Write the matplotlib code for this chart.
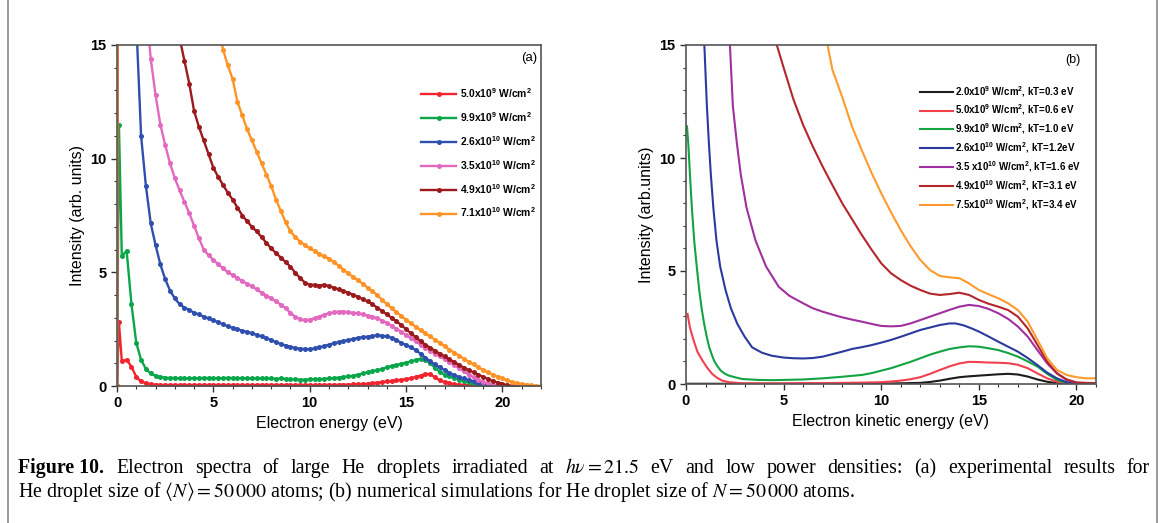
import numpy as np
import matplotlib
matplotlib.use("Agg")
from matplotlib import pyplot as plt
from matplotlib.ticker import MultipleLocator
from matplotlib.lines import Line2D

plt.rcParams['font.family'] = ['Liberation Sans', 'DejaVu Sans']
plt.rcParams['mathtext.fontset'] = 'custom'
plt.rcParams['mathtext.rm'] = 'Liberation Sans:bold'
plt.rcParams['mathtext.it'] = 'Liberation Sans:italic:bold'
plt.rcParams['mathtext.bf'] = 'Liberation Sans:bold'

# ---------------- panel (a): experimental spectra ----------------
# energy grid of the measured points (eV)
xa = np.concatenate(([0.0, 0.1], np.arange(1, 89) * 0.25))

a_red = [0.0, 2.8,
         1.10, 1.15, 0.85, 0.40,
         0.20, 0.12, 0.08, 0.06,
         0.05, 0.05, 0.04, 0.05,
         0.04, 0.05, 0.04, 0.05,
         0.04, 0.05, 0.04, 0.05,
         0.04, 0.05, 0.04, 0.05,
         0.04, 0.05, 0.04, 0.05,
         0.04, 0.05, 0.04, 0.05,
         0.04, 0.05, 0.04, 0.05,
         0.04, 0.05, 0.04, 0.05,
         0.04, 0.05, 0.05, 0.05,
         0.05, 0.05, 0.06, 0.06,
         0.07, 0.08, 0.09, 0.10,
         0.12, 0.15, 0.17, 0.20,
         0.22, 0.25, 0.28, 0.30,
         0.34, 0.40, 0.46, 0.53,
         0.52, 0.38, 0.25, 0.17,
         0.12, 0.08, 0.06, 0.05,
         0.04, 0.03, 0.02, 0.01,
         0.0]

a_green = [0.0, 11.5,
           5.70, 5.95, 3.60, 1.90,
           1.15, 0.75, 0.55, 0.45,
           0.40, 0.37, 0.35, 0.36,
           0.34, 0.35, 0.33, 0.35,
           0.34, 0.36, 0.35, 0.34,
           0.35, 0.34, 0.36, 0.35,
           0.34, 0.35, 0.34, 0.33,
           0.34, 0.33, 0.34, 0.33,
           0.32, 0.33, 0.31, 0.30,
           0.29, 0.28, 0.28, 0.29,
           0.30, 0.30, 0.32, 0.33,
           0.35, 0.37, 0.40, 0.42,
           0.45, 0.50, 0.55, 0.60,
           0.65, 0.70, 0.75, 0.82,
           0.88, 0.93, 0.98, 1.03,
           1.08, 1.15, 1.20, 1.15,
           1.00, 0.80, 0.62, 0.50,
           0.42, 0.34, 0.27, 0.22,
           0.16, 0.11, 0.07, 0.04,
           0.02, 0.0]

a_blue = [0.0, 60.0,
          40.0, 28.0, 20.0, 16.0,
          11.0, 8.80, 7.16, 6.20,
          5.35, 4.70, 4.20, 3.85,
          3.60, 3.45, 3.35, 3.22,
          3.15, 3.05, 2.97, 2.90,
          2.80, 2.72, 2.62, 2.56,
          2.50, 2.43, 2.38, 2.32,
          2.25, 2.18, 2.10, 2.02,
          1.93, 1.85, 1.78, 1.72,
          1.67, 1.64, 1.63, 1.62,
          1.65, 1.70, 1.76, 1.82,
          1.88, 1.93, 1.98, 2.02,
          2.07, 2.12, 2.15, 2.17,
          2.20, 2.23, 2.22, 2.18,
          2.12, 2.02, 1.90, 1.80,
          1.70, 1.58, 1.42, 1.25,
          1.08, 0.95, 0.82, 0.70,
          0.58, 0.48, 0.40, 0.33,
          0.26, 0.20, 0.14, 0.09,
          0.04, 0.01, 0.0]

a_pink = [0.0, 60.0,
          45.0, 36.0, 29.0, 24.0,
          20.0, 16.8, 14.4, 12.8,
          11.5, 10.6, 9.80, 9.15,
          8.60, 8.10, 7.60, 7.05,
          6.50, 6.00, 5.75, 5.55,
          5.35, 5.18, 5.00, 4.88,
          4.75, 4.62, 4.50, 4.38,
          4.25, 4.10, 3.98, 3.85,
          3.72, 3.58, 3.42, 3.22,
          3.05, 2.93, 2.90, 2.92,
          2.98, 3.05, 3.14, 3.20,
          3.24, 3.27, 3.27, 3.25,
          3.22, 3.20, 3.15, 3.10,
          3.05, 2.98, 2.88, 2.78,
          2.65, 2.52, 2.38, 2.25,
          2.10, 1.96, 1.82, 1.68,
          1.55, 1.42, 1.30, 1.18,
          1.05, 0.92, 0.78, 0.64,
          0.50, 0.38, 0.27, 0.18,
          0.11, 0.05, 0.01, 0.0]

a_brown = [0.0, 60.0,
           50.0, 44.0, 39.0, 35.0,
           31.0, 28.0, 25.5, 23.0,
           21.0, 19.5, 18.0, 16.5,
           15.3, 14.3, 13.3, 12.1,
           11.4, 10.8, 10.2, 9.60,
           9.20, 8.85, 8.50, 8.20,
           7.85, 7.50, 7.25, 7.00,
           6.80, 6.55, 6.30, 6.05,
           5.85, 5.65, 5.45, 5.25,
           4.98, 4.75, 4.55, 4.45,
           4.45, 4.42, 4.45, 4.40,
           4.32, 4.25, 4.18, 4.10,
           4.02, 3.92, 3.82, 3.72,
           3.60, 3.45, 3.30, 3.15,
           3.00, 2.85, 2.68, 2.50,
           2.32, 2.15, 1.98, 1.82,
           1.68, 1.55, 1.42, 1.30,
           1.18, 1.05, 0.93, 0.81,
           0.70, 0.60, 0.50, 0.40,
           0.31, 0.22, 0.15, 0.09,
           0.04, 0.01, 0.0]

a_orange = [0.0, 60.0,
            55.0, 50.0, 46.0, 43.0,
            40.0, 37.5, 35.0, 33.0,
            31.0, 29.0, 27.5, 26.0,
            24.5, 23.0, 22.0, 21.0,
            20.0, 19.0, 18.0, 17.0,
            16.0, 14.8, 14.1, 13.5,
            12.5, 11.9, 11.3, 10.8,
            10.3, 9.80, 9.30, 8.80,
            8.20, 7.70, 7.20, 6.80,
            6.55, 6.35, 6.20, 6.05,
            5.95, 5.80, 5.70, 5.60,
            5.45, 5.30, 5.12, 4.95,
            4.80, 4.65, 4.50, 4.33,
            4.18, 4.00, 3.80, 3.60,
            3.42, 3.25, 3.08, 2.92,
            2.76, 2.60, 2.46, 2.32,
            2.18, 2.04, 1.90, 1.76,
            1.60, 1.47, 1.34, 1.20,
            1.07, 0.95, 0.82, 0.70,
            0.60, 0.50, 0.41, 0.33,
            0.25, 0.18, 0.13, 0.09,
            0.06, 0.03, 0.01, 0.0]

a_series = [a_red, a_green, a_blue, a_pink, a_brown, a_orange]
a_labels = [r"5.0x10$^{9}$ W/cm$^{2}$", r"9.9x10$^{9}$ W/cm$^{2}$",
            r"2.6x10$^{10}$ W/cm$^{2}$", r"3.5x10$^{10}$ W/cm$^{2}$",
            r"4.9x10$^{10}$ W/cm$^{2}$", r"7.1x10$^{10}$ W/cm$^{2}$"]
a_colors = ['#f2242e', '#0aa64a', '#2f4fae', '#e368c0', '#9c1a1e', '#ff9326']

# ---------------- panel (b): simulated spectra ----------------
b_black_x = [0, 2, 4, 6, 8, 10, 11, 12, 12.5, 13, 13.5, 14, 14.5, 15, 15.5, 16, 16.5,
             17, 17.5, 18, 18.5, 19, 19.5, 20, 21]
b_black_y = [0.01, 0.01, 0.01, 0.01, 0.01, 0.02, 0.03, 0.05, 0.09, 0.15, 0.23, 0.30, 0.34,
             0.37, 0.40, 0.43, 0.45, 0.42, 0.33, 0.20, 0.10, 0.03, 0.01, 0.0, 0.0]

b_red_x = [0.08, 0.2, 0.4, 0.6, 0.85, 1.1, 1.35, 1.6, 1.85, 2.2, 2.6, 3, 4, 5, 6, 7, 8, 9,
           10, 10.5, 11, 11.5, 12, 12.5, 13, 13.5, 14, 14.5, 15, 15.5, 16, 16.5, 17, 17.5,
           18, 18.5, 19, 19.5, 20, 21]
b_red_y = [3.1, 2.5, 1.9, 1.4, 1.03, 0.70, 0.44, 0.27, 0.15, 0.08, 0.05, 0.03, 0.03, 0.03,
           0.04, 0.04, 0.05, 0.06, 0.08, 0.11, 0.15, 0.21, 0.30, 0.45, 0.62, 0.78, 0.91,
           0.98, 0.97, 0.95, 0.94, 0.92, 0.85, 0.70, 0.47, 0.25, 0.10, 0.03, 0.01, 0.0]

b_green_x = [0.05, 0.12, 0.2, 0.3, 0.42, 0.55, 0.68, 0.8, 0.93, 1.06, 1.19, 1.32, 1.44,
             1.6, 1.78, 2.0, 2.2, 2.5, 2.88, 3.3, 3.7, 4.5, 5, 6, 7, 8, 9, 9.5, 10, 10.5,
             11, 11.5, 12, 12.5, 13, 13.5, 14, 14.5, 15, 15.5, 16, 16.5, 17, 17.5, 18,
             18.5, 19, 19.5, 20, 21]
b_green_y = [11.4, 10.6, 9.3, 7.8, 6.35, 5.2, 4.14, 3.35, 2.66, 2.1, 1.62, 1.3, 1.03, 0.8,
             0.59, 0.45, 0.37, 0.30, 0.22, 0.20, 0.18, 0.17, 0.18, 0.20, 0.25, 0.32, 0.40,
             0.48, 0.59, 0.70, 0.84, 0.98, 1.14, 1.30, 1.43, 1.55, 1.62, 1.67, 1.65, 1.58,
             1.50, 1.37, 1.21, 1.0, 0.77, 0.45, 0.18, 0.05, 0.01, 0.0]

b_blue_x = [0.75, 0.85, 0.94, 1.07, 1.17, 1.27, 1.4, 1.56, 1.75, 2.03, 2.3, 2.63, 3.0, 3.39,
            3.9, 4.4, 5.0, 5.5, 6.0, 6.5, 7, 7.5, 8, 8.5, 9, 9.5, 10, 10.5, 11, 11.5, 12,
            12.5, 13, 13.5, 13.8, 14.2, 14.6, 15, 15.5, 16, 16.5, 17, 17.5, 18, 18.5, 19,
            19.5, 20, 21]
b_blue_y = [19.0, 16.5, 15.0, 12.3, 10.7, 9.3, 7.8, 6.35, 5.2, 4.14, 3.35, 2.66, 2.1, 1.62,
            1.38, 1.25, 1.17, 1.14, 1.13, 1.15, 1.21, 1.32, 1.43, 1.55, 1.63, 1.72, 1.83,
            1.95, 2.09, 2.24, 2.39, 2.50, 2.61, 2.68, 2.68, 2.60, 2.47, 2.32, 2.10, 1.87,
            1.65, 1.43, 1.15, 0.84, 0.50, 0.25, 0.08, 0.02, 0.0]

b_mag_x = [2.0, 2.12, 2.25, 2.4, 2.6, 2.8, 3.1, 3.56, 4.1, 4.75, 5.3, 6, 6.5, 7, 7.5, 8,
           8.5, 9, 9.5, 10, 10.5, 11, 11.5, 12, 12.5, 13, 13.5, 14, 14.5, 15, 15.5, 16,
           16.5, 17, 17.5, 18, 18.5, 19, 19.5, 20, 21]
b_mag_y = [19.0, 17.0, 15.0, 12.3, 10.7, 9.3, 7.8, 6.35, 5.2, 4.3, 3.9, 3.57, 3.35, 3.2,
           3.07, 2.95, 2.85, 2.76, 2.66, 2.57, 2.55, 2.57, 2.68, 2.83, 2.98, 3.13, 3.28,
           3.42, 3.50, 3.45, 3.32, 3.13, 2.88, 2.54, 2.10, 1.50, 0.91, 0.47, 0.18, 0.05,
           0.02]

b_brown_x = [4.3, 4.65, 5, 5.5, 6, 6.5, 7, 7.5, 8, 8.5, 9, 9.5, 10, 10.5, 11, 11.5, 12,
             12.5, 13, 13.5, 14, 14.5, 15, 15.5, 16, 16.5, 17, 17.5, 18, 18.5, 19, 19.5,
             20, 21]
b_brown_y = [16.5, 15.0, 14.0, 12.6, 11.46, 10.5, 9.62, 8.8, 8.0, 7.3, 6.6, 5.95, 5.34,
             4.9, 4.6, 4.35, 4.16, 4.0, 3.94, 3.98, 4.04, 3.94, 3.72, 3.55, 3.42, 3.27,
             2.98, 2.46, 1.73, 0.99, 0.47, 0.20, 0.07, 0.03]

b_orange_x = [6.9, 7.25, 7.5, 8, 8.5, 9, 9.5, 10, 10.5, 11, 11.5, 12, 12.5, 13, 13.5, 14,
              14.5, 15, 15.5, 16, 16.5, 17, 17.5, 18, 18.5, 19, 19.5, 20, 20.5, 21]
b_orange_y = [16.5, 15.0, 13.9, 12.7, 11.4, 10.35, 9.35, 8.44, 7.6, 6.81, 6.1, 5.49, 5.04,
              4.78, 4.72, 4.68, 4.45, 4.16, 3.97, 3.79, 3.57, 3.27, 2.76, 1.95, 1.14, 0.62,
              0.40, 0.30, 0.25, 0.25]

b_series = [(b_black_x, b_black_y), (b_red_x, b_red_y), (b_green_x, b_green_y),
            (b_blue_x, b_blue_y), (b_mag_x, b_mag_y), (b_brown_x, b_brown_y),
            (b_orange_x, b_orange_y)]
b_labels = [r"2.0x10$^{9}$ W/cm$^{2}$, kT=0.3 eV", r"5.0x10$^{9}$ W/cm$^{2}$, kT=0.6 eV",
            r"9.9x10$^{9}$ W/cm$^{2}$, kT=1.0 eV", r"2.6x10$^{10}$ W/cm$^{2}$, kT=1.2eV",
            r"3.5 x10$^{10}$ W/cm$^{2}$, kT=1.6 eV", r"4.9x10$^{10}$ W/cm$^{2}$, kT=3.1 eV",
            r"7.5x10$^{10}$ W/cm$^{2}$, kT=3.4 eV"]
b_colors = ['#1c1c1c', '#f2404e', '#12a443', '#2b3a9e', '#a0309f', '#b3262b', '#ff9a2e']

# caption words (line 1 is justified to full width)
cap1_words = ["Electron", "spectra", "of", "large", "He", "droplets", "irradiated", "at",
              r"$h\nu = 21.5$", "eV", "and", "low", "power", "densities:", "(a)",
              "experimental", "results", "for"]
cap2 = (r"He droplet size of $\langle N\rangle = 50\,000$ atoms; (b) numerical simulations "
        r"for He droplet size of $N = 50\,000$ atoms.")


W, H = 1165, 523
fig = plt.figure(figsize=(W / 100, H / 100), dpi=100)


def style_axes(ax, xmax, xlabel, ylabel):
    ax.set_xlim(0, xmax)
    ax.set_ylim(0, 15)
    ax.xaxis.set_major_locator(MultipleLocator(5))
    ax.xaxis.set_minor_locator(MultipleLocator(1))
    ax.yaxis.set_major_locator(MultipleLocator(5))
    ax.yaxis.set_minor_locator(MultipleLocator(1))
    ax.tick_params(which='major', direction='out', length=4, width=1, labelsize=10.5,
                   color='#333333')
    ax.tick_params(which='minor', direction='out', length=2.5, width=0.8, color='#333333')
    for lab in ax.get_xticklabels() + ax.get_yticklabels():
        lab.set_fontweight('bold')
    for sp in ax.spines.values():
        sp.set_color('#555555')
        sp.set_linewidth(1.2)
    ax.set_xlabel(xlabel, fontsize=11.5, labelpad=4)
    ax.set_ylabel(ylabel, fontsize=11.5, labelpad=4)


# panel (a)
ax1 = fig.add_axes([117 / W, 1 - 386 / H, 424 / W, 341 / H])
for y, lab, c in zip(a_series, a_labels, a_colors):
    ax1.plot(xa[:len(y)], y, '-o', color=c, lw=1.7, ms=3.6, mew=0, label=lab)
style_axes(ax1, 22, 'Electron energy (eV)', 'Intensity (arb. units)')
ax1.legend(loc='upper right', bbox_to_anchor=(0.998, 0.891), frameon=False,
           prop={'size': 7.4, 'weight': 'bold'}, handlelength=3.4, handletextpad=0.4,
           labelspacing=0.98, borderaxespad=0)
ax1.text(0.99, 0.962, '(a)', transform=ax1.transAxes, ha='right', va='center', fontsize=9.5)

# panel (b)
ax2 = fig.add_axes([686 / W, 1 - 384 / H, 410 / W, 339 / H])
for (x, y), lab, c in zip(b_series, b_labels, b_colors):
    ax2.plot(x, y, '-', color=c, lw=1.5, label=lab)
style_axes(ax2, 21, 'Electron kinetic energy (eV)', 'Intensity (arb.units)')
ax2.legend(loc='upper right', bbox_to_anchor=(0.972, 0.897), frameon=False,
           prop={'weight': 'bold', 'size': 7.0}, handlelength=3.4,
           handletextpad=0.2, labelspacing=0.42, borderaxespad=0)
ax2.text(0.962, 0.955, '(b)', transform=ax2.transAxes, ha='right', va='center', fontsize=9)

# caption
cap_size = 14.3
renderer = fig.canvas.get_renderer()
y1 = 1 - 473 / H
y2 = 1 - 497 / H
head = fig.text(18 / W, y1, "Figure 10.", family='Liberation Serif', weight='bold',
                fontsize=cap_size, va='baseline', ha='left')
head_w = head.get_window_extent(renderer).width
word_texts = [fig.text(0, y1, w, family='Liberation Serif', math_fontfamily='stix',
                       fontsize=cap_size, va='baseline', ha='left') for w in cap1_words]
widths = [t.get_window_extent(renderer).width for t in word_texts]
x_start = 18 + head_w + 12
x_end = 1150
gap = (x_end - x_start - sum(widths)) / (len(widths) - 1)
xpos = x_start
for t, w in zip(word_texts, widths):
    t.set_x(xpos / W)
    xpos += w + gap
fig.text(18 / W, y2, cap2, family='Liberation Serif', math_fontfamily='stix',
         fontsize=cap_size, va='baseline', ha='left')

# outer frame lines
fig.add_artist(Line2D([8 / W, 8 / W], [0, 1], color='#888888', lw=1.2))
fig.add_artist(Line2D([1157 / W, 1157 / W], [0, 1], color='#888888', lw=1.2))

fig.savefig('out.png', dpi=100)
